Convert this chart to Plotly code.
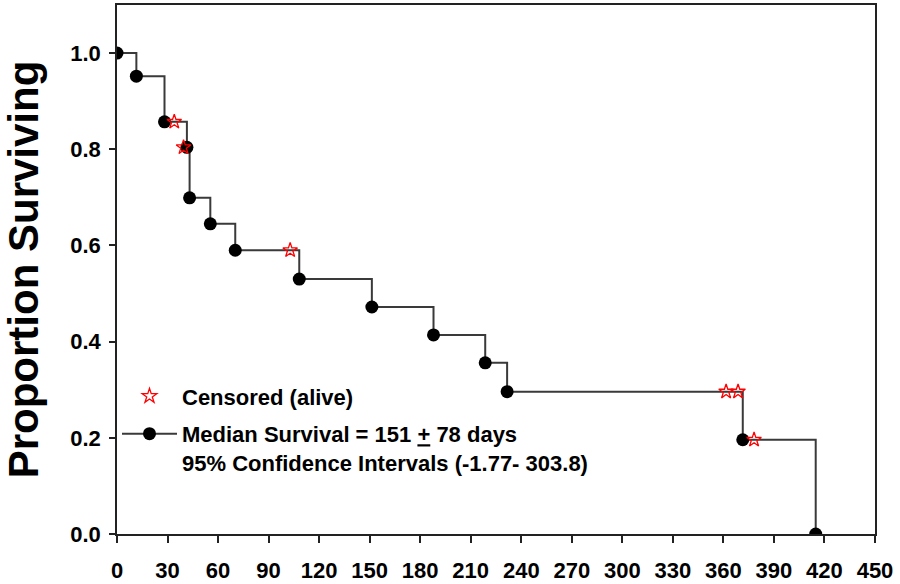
import plotly.graph_objects as go

# Kaplan-Meier estimate
event_days = [0, 11.5, 28.2, 41.5, 43.1, 55.4, 70.2, 108.2, 151.3, 187.9, 218.6, 231.6, 371.5, 414.8]
survival = [1.0, 0.952, 0.857, 0.804, 0.699, 0.645, 0.590, 0.530, 0.472, 0.414, 0.356, 0.296, 0.196, 0.0]

# censored (alive) patients
censor_days = [34.0, 39.5, 102.8, 361.6, 368.7, 378.2]
censor_surv = [0.857, 0.804, 0.590, 0.296, 0.296, 0.196]

x_ticks = list(range(0, 451, 30))
y_ticks = [0.0, 0.2, 0.4, 0.6, 0.8, 1.0]

FONT = 'Arial, Liberation Sans, sans-serif'

fig = go.Figure()

fig.add_trace(go.Scatter(
    x=event_days, y=survival, mode='lines+markers', line_shape='hv',
    name='Median Survival = 151 <u>+</u> 78 days<br>95% Confidence Intervals (-1.77- 303.8)',
    line=dict(color='#3a3a3a', width=2),
    marker=dict(symbol='circle', size=13, color='black'),
    legendgroup='km', legendrank=2))

fig.add_trace(go.Scatter(
    x=censor_days, y=censor_surv, mode='markers', name='Censored (alive)',
    marker=dict(symbol='star-open', size=11, color='red', line=dict(color='red', width=1.3)),
    legendgroup='cens', legendrank=1))

fig.update_xaxes(range=[0, 450], tickvals=x_ticks, ticks='outside', ticklen=7, tickwidth=1.5,
                 tickcolor='#222', showline=True, linecolor='#222', linewidth=1.5, mirror=True,
                 showgrid=False, zeroline=False, automargin=False, ticklabelstandoff=9,
                 tickfont=dict(family=FONT, size=22, color='black', weight='bold'))
fig.update_yaxes(range=[0, 1.1], tickvals=y_ticks, tickformat='.1f', ticks='outside', ticklen=6,
                 tickwidth=1.5, tickcolor='#222', showline=True, linecolor='#222', linewidth=1.5,
                 mirror=True, showgrid=False, zeroline=False, automargin=False,
                 ticklabelstandoff=4,
                 tickfont=dict(family=FONT, size=22, color='black', weight='bold'),
                 title=dict(text='Proportion Surviving', standoff=22,
                            font=dict(family=FONT, size=42, color='black', weight='bold')))

fig.update_layout(
    width=900, height=584,
    margin=dict(l=117, r=25, t=5, b=50, autoexpand=False),
    paper_bgcolor='white', plot_bgcolor='white',
    showlegend=True,
    legend=dict(x=0, y=0.30, xanchor='left', yanchor='top', bgcolor='rgba(0,0,0,0)',
                font=dict(family=FONT, size=22, color='black', weight='bold'),
                itemwidth=55, valign='top', tracegroupgap=6, traceorder='grouped'),
)

# drop the default page margin so the figure sits at the window's corner
fig.write_html("out.html", config={'displayModeBar': False},
               post_script="document.body.style.margin='0';")
